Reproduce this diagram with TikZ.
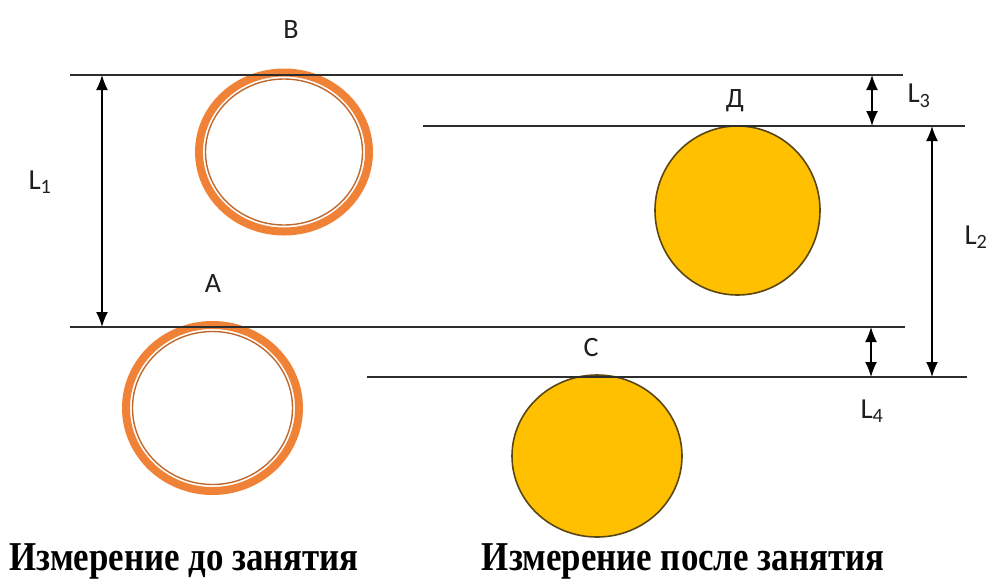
\documentclass[tikz,border=0pt]{standalone}
\usepackage{fontspec}
\setmainfont{Liberation Serif}
\newfontfamily\lblfont{Carlito}
\newfontface\capfont[FakeStretch=0.85]{Liberation Serif Bold}
\usetikzlibrary{arrows.meta,shapes.geometric}

\definecolor{ringorange}{RGB}{240,130,55}
\definecolor{discgold}{RGB}{255,192,0}
\definecolor{discedge}{RGB}{90,70,20}
\definecolor{levelgrey}{RGB}{45,45,45}
\definecolor{labelgrey}{RGB}{30,30,30}

\tikzset{
  level/.style={draw=levelgrey, line width=2.4pt},
  dimarrow/.style={draw=black, line width=1.6pt,
    {Latex[length=15pt,width=12pt]}-{Latex[length=15pt,width=12pt]}},
  ringouter/.style={ellipse, draw=ringorange, line width=8pt, inner sep=0pt},
  ringinner/.style={ellipse, draw=ringorange!80!black, line width=1.4pt, inner sep=0pt},
  disc/.style={ellipse, draw=discedge, line width=1.6pt, fill=discgold, inner sep=0pt},
  pointlbl/.style={font=\lblfont\fontsize{28}{28}\selectfont, text=labelgrey, inner sep=0pt},
  dimlbl/.style={font=\lblfont\fontsize{29}{29}\selectfont, text=labelgrey, inner sep=0pt},
  caption/.style={font=\capfont\fontsize{41}{41}\selectfont, inner sep=0pt, anchor=base}
}

\begin{document}
\begin{tikzpicture}[x=1pt,y=-1pt]
  \useasboundingbox (0,0) rectangle (993,579);

  % level lines: ends
  \coordinate (topL) at (70,75);   \coordinate (topR) at (903,75);
  \coordinate (dL)   at (423,126); \coordinate (dR)   at (965,126);
  \coordinate (aL)   at (70,327);  \coordinate (aR)   at (905,327);
  \coordinate (cL)   at (367,377); \coordinate (cR)   at (967,377);

  % rings before the session
  \node[ringouter, minimum width=170pt, minimum height=159pt] (ringB) at (284,152) {};
  \node[ringinner, minimum width=157pt, minimum height=146pt] (ringBin) at (ringB.center) {};
  \node[ringouter, minimum width=173pt, minimum height=166pt] (ringA) at (212.5,408) {};
  \node[ringinner, minimum width=160pt, minimum height=153pt] (ringAin) at (ringA.center) {};

  % discs after the session
  \node[disc, minimum width=165pt, minimum height=169pt] (discD) at (737.5,210.5) {};
  \node[disc, minimum width=170pt, minimum height=162pt] (discC) at (597,456) {};

  % level lines
  \draw[level] (topL) -- (topR);
  \draw[level] (dL) -- (dR);
  \draw[level] (aL) -- (aR);
  \draw[level] (cL) -- (cR);

  % dimension arrows
  \coordinate (l1a) at (102,75);  \coordinate (l1b) at (102,327);
  \coordinate (l3a) at (872,75);  \coordinate (l3b) at (872,126);
  \coordinate (l2a) at (932,126); \coordinate (l2b) at (932,377);
  \coordinate (l4a) at (871,327); \coordinate (l4b) at (871,377);
  \draw[dimarrow] (l1a) -- (l1b);
  \draw[dimarrow] (l3a) -- (l3b);
  \draw[dimarrow] (l2a) -- (l2b);
  \draw[dimarrow] (l4a) -- (l4b);

  % point labels
  \node[pointlbl] (lblB) at (291,30) {B};
  \node[pointlbl] (lblD) at (735,101) {Д};
  \node[pointlbl] (lblA) at (213,284) {A};
  \node[pointlbl] (lblC) at (591,348) {C};

  % dimension labels
  \node[dimlbl] (lblL1) at (40,182) {L\textsubscript{1}};
  \node[dimlbl] (lblL2) at (976,237) {L\textsubscript{2}};
  \node[dimlbl] (lblL3) at (919,96) {L\textsubscript{3}};
  \node[dimlbl] (lblL4) at (872,411) {L\textsubscript{4}};

  % captions
  \node[caption] (capBefore) at (184,570) {Измерение до занятия};
  \node[caption] (capAfter) at (683,570) {Измерение после занятия};
\end{tikzpicture}
\end{document}
